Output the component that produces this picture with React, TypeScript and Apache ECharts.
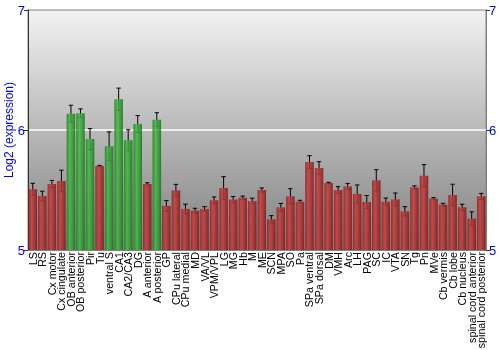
import React, { useEffect, useRef } from "react";
import * as echarts from "echarts";

const categories = [
  "LS", "RS", "Cx motor", "Cx cingulate", "OB anterior", "OB posterior", "Pir", "Tu",
  "ventral S", "CA1", "CA2/CA3", "DG", "A anterior", "A posterior", "GP", "CPu lateral",
  "CPu medial", "MD", "VA/VL", "VPM/VPL", "LG", "MG", "Hb", "M", "ME", "SCN", "MPA",
  "SO", "Pa", "SPa ventral", "SPa dorsal", "DM", "VMH", "Arc", "LH", "PAG", "SC", "IC",
  "VTA", "SN", "Tg", "Pn", "MVe", "Cb vermis", "Cb lobe", "Cb nucleus",
  "spinal cord anterior", "spinal cord posterior",
];

const values = [
  5.506, 5.45, 5.55, 5.575, 6.136, 6.14, 5.925, 5.70,
  5.864, 6.256, 5.914, 6.05, 5.55, 6.086, 5.367, 5.497,
  5.342, 5.328, 5.342, 5.414, 5.517, 5.42, 5.436, 5.408, 5.50, 5.256, 5.355,
  5.447, 5.403, 5.733, 5.683, 5.558, 5.50, 5.53, 5.467, 5.40, 5.58, 5.403,
  5.422, 5.322, 5.522, 5.619, 5.428, 5.378, 5.458, 5.356,
  5.261, 5.447,
];

const errors = [
  0.05, 0.04, 0.03, 0.09, 0.07, 0.036, 0.087, 0.005,
  0.12, 0.093, 0.088, 0.07, 0.01, 0.058, 0.045, 0.05,
  0.04, 0.02, 0.02, 0.028, 0.094, 0.026, 0.013, 0.024, 0.017, 0.03, 0.033,
  0.064, 0.011, 0.053, 0.053, 0.006, 0.028, 0.025, 0.075, 0.054, 0.089, 0.03,
  0.053, 0.039, 0.0125, 0.092, 0.008, 0.011, 0.09, 0.025,
  0.057, 0.025,
];

const highlighted = [
  "OB anterior", "OB posterior", "Pir", "ventral S", "CA1", "CA2/CA3", "DG", "A posterior",
];

const yTicks = [5, 6, 7];
const yTitle = "Log2 (expression)";

const FONT = "'Liberation Sans', Arial, sans-serif";

const redGrad = () =>
  new echarts.graphic.LinearGradient(0, 0, 1, 0, [
    { offset: 0, color: "#8e1f1f" },
    { offset: 0.35, color: "#c44040" },
    { offset: 0.7, color: "#a82a2a" },
    { offset: 1, color: "#7a1616" },
  ]);

const greenGrad = () =>
  new echarts.graphic.LinearGradient(0, 0, 1, 0, [
    { offset: 0, color: "#1f7f1f" },
    { offset: 0.35, color: "#45b845" },
    { offset: 0.7, color: "#2e9a2e" },
    { offset: 1, color: "#1a6e1a" },
  ]);

export default function App() {
  const ref = useRef<HTMLDivElement>(null);

  useEffect(() => {
    if (!ref.current) return;
    const chart = echarts.init(ref.current, null, { renderer: "svg" });

    const barData = values.map((v, i) => ({
      value: v,
      itemStyle: {
        color: highlighted.includes(categories[i]) ? greenGrad() : redGrad(),
        opacity: 0.85,
      },
    }));

    const errData = values.map((v, i) => [i, v - errors[i], v + errors[i]]);

    const yAxisCommon = {
      type: "value" as const,
      min: yTicks[0],
      max: yTicks[yTicks.length - 1],
      interval: 1,
      axisLabel: { color: "#0000ff", fontSize: 13, fontFamily: FONT, margin: 3 },
      axisTick: { show: true, length: 4, lineStyle: { color: "#333" } },
    };

    chart.setOption({
      animation: false,
      grid: {
        left: 28,
        right: 14,
        top: 10,
        bottom: 100,
        containLabel: false,
        outerBoundsMode: "none",
        show: true,
        borderColor: "#808080",
        borderWidth: 1,
        backgroundColor: new echarts.graphic.LinearGradient(0, 0, 0, 1, [
          { offset: 0, color: "#f2f2f2" },
          { offset: 1, color: "#808080" },
        ]),
      },
      graphic: [
        {
          type: "text",
          x: 9,
          y: 130,
          rotation: Math.PI / 2,
          style: {
            text: yTitle,
            fill: "#0000ff",
            fontSize: 12,
            fontFamily: FONT,
            align: "center",
            verticalAlign: "middle",
          },
        },
      ],
      xAxis: {
        type: "category",
        data: categories,
        axisLine: { show: true, lineStyle: { color: "#808080" } },
        axisTick: { show: false },
        axisLabel: {
          rotate: 90,
          interval: 0,
          color: "#000",
          fontSize: 10.7,
          fontFamily: FONT,
          margin: 2,
        },
      },
      yAxis: [
        {
          ...yAxisCommon,
          position: "left",
          axisLine: { show: true, lineStyle: { color: "#333" } },
          splitLine: {
            show: true,
            lineStyle: {
              color: ["rgba(0,0,0,0)", "#ffffff", "rgba(0,0,0,0)"],
              width: 1.5,
            },
          },
        },
        {
          ...yAxisCommon,
          position: "right",
          axisLine: { show: true, lineStyle: { color: "#808080" } },
          splitLine: { show: false },
        },
      ],
      series: [
        {
          type: "custom",
          z: 1,
          data: errData,
          renderItem: (params: any, api: any) => {
            const i = api.value(0);
            const lo = api.coord([i, api.value(1)]);
            const hi = api.coord([i, api.value(2)]);
            const x = lo[0];
            const cw = 2.2;
            const style = { stroke: "#000", lineWidth: 1 };
            return {
              type: "group",
              children: [
                { type: "line", shape: { x1: x, y1: lo[1], x2: x, y2: hi[1] }, style },
                { type: "line", shape: { x1: x - cw, y1: lo[1], x2: x + cw, y2: lo[1] }, style },
                { type: "line", shape: { x1: x - cw, y1: hi[1], x2: x + cw, y2: hi[1] }, style },
              ],
            };
          },
        },
        {
          type: "bar",
          z: 2,
          barCategoryGap: "10%",
          data: barData,
        },
      ],
    });

    return () => chart.dispose();
  }, []);

  return (
    <div
      ref={ref}
      style={{ position: "fixed", left: 0, top: 0, width: 500, height: 350 }}
    />
  );
}
